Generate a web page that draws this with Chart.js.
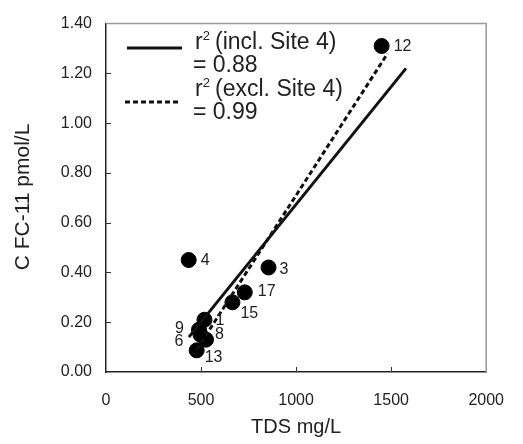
<!DOCTYPE html>
<html>
<head>
<meta charset="utf-8">
<script src="https://cdn.jsdelivr.net/npm/chart.js@4/dist/chart.umd.min.js"></script>
<style>
  body { margin: 0; background: #fff; }
  canvas { display: block; }
</style>
</head>
<body>
<canvas id="myChart" width="523" height="444"></canvas>
<script>
// site data
const siteLabels = ['12', '4', '3', '17', '15', '1', '9', '6', '8', '13'];
const tdsValues = [1450, 435, 855, 730, 665, 518, 489, 497, 526, 477];
const cfcValues = [1.31, 0.45, 0.42, 0.32, 0.28, 0.21, 0.17, 0.15, 0.13, 0.087];

// regression line end points
const fitInclX = [436, 1578];
const fitInclY = [0.14, 1.22];
const fitExclX = [477, 1481];
const fitExclY = [0.09, 1.28];

const xTicks = [0, 500, 1000, 1500, 2000];
const yTicks = [0, 0.2, 0.4, 0.6, 0.8, 1.0, 1.2, 1.4];

// label offsets next to each point (px): dx, dy, align
const labelOffsets = [
    [12, 1, 'left'], [12, 1, 'left'], [11, 2, 'left'], [13, -1, 'left'],
    [8, 11, 'left'], [11, 1, 'left'], [-15, -1, 'right'], [-17, 7, 'right'],
    [9, -5, 'left'], [8, 7, 'left']
];

const FONT = '"Liberation Sans", Arial, sans-serif';
const TEXT = '#222';

function toPoints(xs, ys) {
    return xs.map((x, i) => ({ x: x, y: ys[i] }));
}

// frame, inward ticks, titles
const framePlugin = {
    id: 'frame',
    afterDraw(chart) {
        const ctx = chart.ctx;
        const a = chart.chartArea;
        const xs = chart.scales.x, ys = chart.scales.y;
        ctx.save();
        ctx.strokeStyle = '#999';
        ctx.lineWidth = 1.5;
        ctx.beginPath();
        ctx.moveTo(a.left, a.top);
        ctx.lineTo(a.right, a.top);
        ctx.lineTo(a.right, a.bottom);
        ctx.stroke();

        ctx.strokeStyle = '#333';
        ctx.lineWidth = 1;
        ctx.beginPath();
        xTicks.slice(1, -1).forEach(v => {
            const px = Math.round(xs.getPixelForValue(v)) + 0.5;
            ctx.moveTo(px, a.bottom);
            ctx.lineTo(px, a.bottom - 5);
        });
        yTicks.slice(1, -1).forEach(v => {
            const py = Math.round(ys.getPixelForValue(v)) + 0.5;
            ctx.moveTo(a.left, py);
            ctx.lineTo(a.left + 5, py);
        });
        ctx.stroke();

        ctx.fillStyle = TEXT;
        ctx.textAlign = 'center';
        ctx.textBaseline = 'middle';
        ctx.font = '20px ' + FONT;
        ctx.fillText('TDS mg/L', (a.left + a.right) / 2, 427);
        ctx.font = '21px ' + FONT;
        ctx.translate(23, 197);
        ctx.rotate(-Math.PI / 2);
        ctx.fillText('C FC-11 pmol/L', 0, 0);
        ctx.restore();
    }
};

// site numbers beside the points
const pointLabelPlugin = {
    id: 'pointLabels',
    afterDatasetsDraw(chart) {
        const ctx = chart.ctx;
        const meta = chart.getDatasetMeta(2);
        ctx.save();
        ctx.fillStyle = TEXT;
        ctx.font = '16px ' + FONT;
        ctx.textBaseline = 'middle';
        meta.data.forEach((pt, i) => {
            const off = labelOffsets[i];
            ctx.textAlign = off[2];
            ctx.fillText(siteLabels[i], pt.x + off[0], pt.y + off[1]);
        });
        ctx.restore();
    }
};

// legend inside the plot
const legendPlugin = {
    id: 'customLegend',
    afterDatasetsDraw(chart) {
        const ctx = chart.ctx;
        ctx.save();
        ctx.strokeStyle = '#111';
        ctx.lineWidth = 3;
        ctx.beginPath();
        ctx.moveTo(127, 48);
        ctx.lineTo(182, 48);
        ctx.stroke();
        ctx.setLineDash([5, 3]);
        ctx.beginPath();
        ctx.moveTo(125, 102);
        ctx.lineTo(179, 102);
        ctx.stroke();
        ctx.setLineDash([]);

        ctx.fillStyle = TEXT;
        ctx.textAlign = 'left';
        ctx.textBaseline = 'middle';
        const rows = [['(incl. Site 4)', '= 0.88', 43, 66], ['(excl. Site 4)', '= 0.99', 90, 113]];
        rows.forEach(r => {
            ctx.font = '23px ' + FONT;
            ctx.fillText('r', 195, r[2]);
            const rw = ctx.measureText('r').width;
            ctx.font = '13px ' + FONT;
            ctx.fillText('2', 195 + rw, r[2] - 7);
            ctx.font = '23px ' + FONT;
            ctx.fillText(' ' + r[0], 195 + rw + 6, r[2]);
            ctx.fillText(r[1], 193, r[3]);
        });
        ctx.restore();
    }
};

new Chart(document.getElementById('myChart').getContext('2d'), {
    type: 'scatter',
    data: {
        datasets: [
            {
                type: 'line',
                label: 'incl. Site 4',
                data: toPoints(fitInclX, fitInclY),
                borderColor: '#111',
                borderWidth: 3,
                pointRadius: 0,
                fill: false
            },
            {
                type: 'line',
                label: 'excl. Site 4',
                data: toPoints(fitExclX, fitExclY),
                borderColor: '#111',
                borderWidth: 3,
                borderDash: [5, 3],
                pointRadius: 0,
                fill: false
            },
            {
                label: 'Sites',
                data: toPoints(tdsValues, cfcValues),
                backgroundColor: '#000',
                borderColor: '#000',
                pointRadius: 7.5,
                pointHoverRadius: 7.5
            }
        ]
    },
    options: {
        responsive: false,
        animation: false,
        devicePixelRatio: 1,
        layout: { padding: { top: 16, right: 19, left: 0, bottom: 0 } },
        plugins: {
            legend: { display: false },
            tooltip: { enabled: false }
        },
        scales: {
            x: {
                type: 'linear',
                min: 0,
                max: 2000,
                afterFit(scale) { scale.height = 72; },
                afterBuildTicks(scale) { scale.ticks = xTicks.map(v => ({ value: v })); },
                grid: { display: false, drawTicks: false },
                border: { color: '#222', width: 1.5 },
                ticks: {
                    padding: 19,
                    color: TEXT,
                    font: { family: FONT, size: 16 },
                    callback: v => String(v)
                }
            },
            y: {
                type: 'linear',
                min: 0,
                max: 1.4,
                afterFit(scale) { scale.width = 106; },
                afterBuildTicks(scale) { scale.ticks = yTicks.map(v => ({ value: v })); },
                grid: { display: false, drawTicks: false },
                border: { color: '#222', width: 1.5 },
                ticks: {
                    padding: 14,
                    color: TEXT,
                    font: { family: FONT, size: 16 },
                    callback: v => v.toFixed(2)
                }
            }
        }
    },
    plugins: [framePlugin, pointLabelPlugin, legendPlugin]
});
</script>
</body>
</html>
